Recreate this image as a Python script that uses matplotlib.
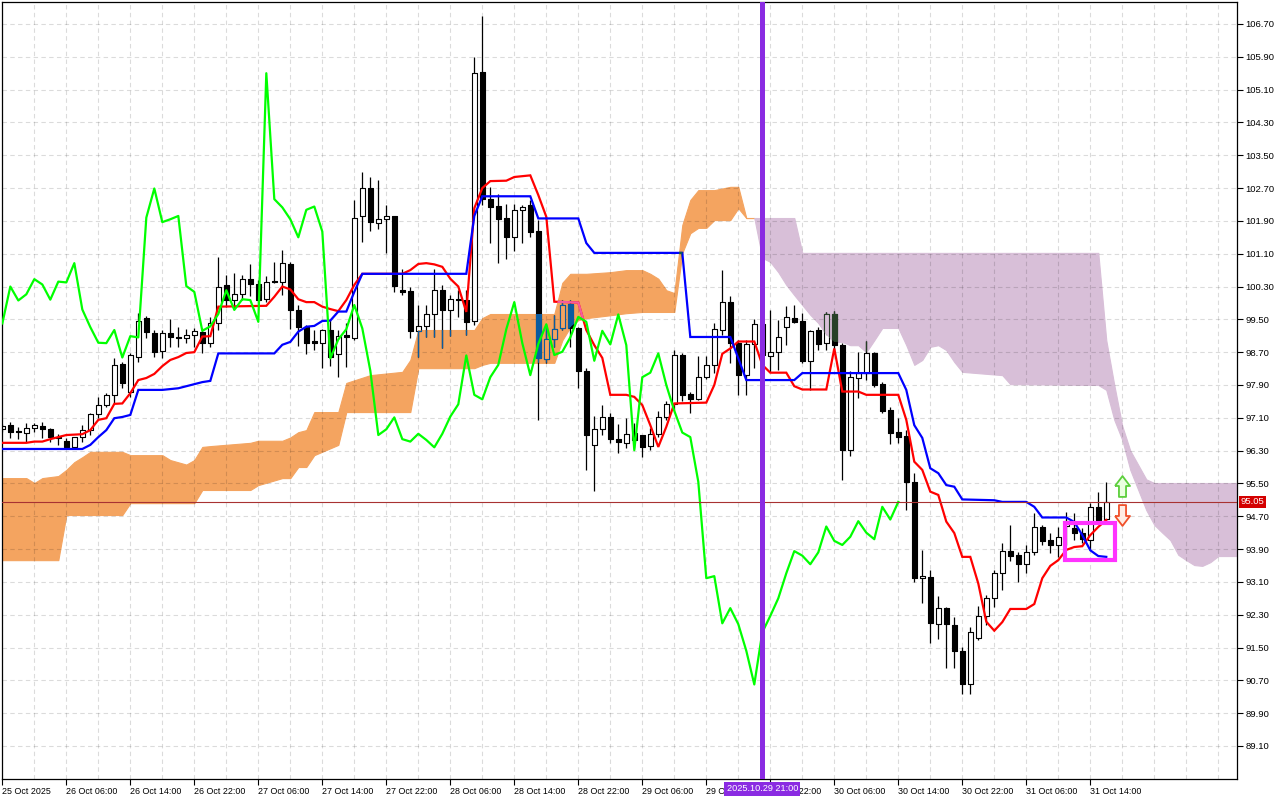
import numpy as np
import matplotlib
matplotlib.use("Agg")
import matplotlib.pyplot as plt
from matplotlib.path import Path
from matplotlib.collections import LineCollection, PolyCollection
from matplotlib.patches import Rectangle
from matplotlib.transforms import blended_transform_factory

# hourly candles, bar 0 = 25 Oct 22:00
opens = [96.83, 96.92, 96.79, 96.72, 96.84, 96.90, 96.82, 96.64, 96.54, 96.40,
         96.62, 96.80, 97.19, 97.40, 97.65, 98.40, 97.73, 98.59, 99.54, 99.17,
         98.73, 99.16, 99.06, 99.05, 99.13, 99.20, 98.92, 99.40, 100.33, 99.97,
         100.11, 100.48, 100.35, 99.99, 100.44, 100.42, 100.84, 99.74, 99.31, 98.96,
         98.93, 99.25, 98.65, 99.13, 99.05, 102.02, 102.69, 101.84, 101.94, 102.02,
         100.21, 100.19, 99.22, 99.33, 99.63, 100.21, 99.73, 99.99, 99.97, 99.47,
         105.54, 102.43, 102.26, 101.96, 101.50, 102.17, 102.29, 101.66, 98.53, 99.01,
         99.28, 99.87, 99.28, 98.25, 96.44, 96.82, 97.11, 96.58, 96.49, 96.73,
         96.68, 96.41, 96.71, 97.13, 97.44, 98.62, 97.68, 97.55, 98.09, 98.39,
         99.24, 99.92, 98.92, 98.14, 98.90, 99.38, 98.61, 98.71, 99.31, 99.53,
         99.46, 98.49, 99.24, 98.92, 99.62, 98.87, 96.31, 98.06, 98.20, 98.67,
         97.92, 97.29, 96.76, 96.66, 95.54, 93.19, 93.23, 92.07, 92.46, 92.05,
         91.42, 90.60, 91.72, 92.27, 92.70, 93.32, 93.85, 93.75, 93.53, 93.82,
         94.43, 94.12, 94.00, 94.46, 94.41, 94.30, 94.13, 94.93, 94.64]
highs = [96.95, 96.99, 96.88, 96.97, 96.98, 97.00, 96.84, 96.70, 96.60, 96.64,
         96.92, 97.21, 97.61, 97.70, 98.55, 98.47, 98.69, 99.65, 99.58, 99.24,
         99.24, 99.50, 99.32, 99.26, 99.28, 99.28, 99.56, 101.01, 100.58, 100.62,
         100.58, 100.84, 100.46, 100.56, 100.90, 101.20, 100.91, 99.85, 99.36, 99.24,
         99.26, 99.48, 99.24, 99.40, 102.41, 103.09, 102.96, 102.90, 102.29, 102.03,
         100.73, 100.30, 99.84, 99.85, 100.72, 100.34, 100.09, 100.21, 100.21, 105.89,
         106.90, 102.73, 102.55, 102.31, 102.31, 102.29, 102.41, 101.92, 99.36, 99.61,
         99.97, 99.97, 99.32, 98.31, 97.14, 97.41, 97.21, 96.95, 97.09, 96.97,
         96.68, 96.84, 97.27, 97.52, 98.75, 98.67, 97.74, 98.61, 98.61, 99.42,
         100.70, 100.07, 99.00, 99.00, 99.50, 99.45, 99.73, 99.48, 99.83, 99.85,
         99.65, 99.24, 99.32, 99.69, 99.70, 98.92, 98.25, 98.71, 98.96, 98.71,
         97.98, 97.37, 97.09, 96.80, 95.75, 93.88, 93.39, 92.76, 92.50, 92.24,
         91.52, 92.01, 92.51, 92.78, 93.39, 94.04, 94.49, 93.83, 94.00, 94.79,
         94.49, 94.28, 94.45, 94.80, 94.77, 94.41, 95.03, 95.30, 95.54]
lows = [96.75, 96.60, 96.58, 96.52, 96.75, 96.60, 96.52, 96.44, 96.36, 96.36,
        96.52, 96.68, 97.09, 97.37, 97.45, 97.82, 97.61, 98.47, 99.04, 98.57,
        98.55, 98.83, 98.83, 98.93, 98.83, 98.67, 98.82, 99.24, 99.79, 99.75,
        99.98, 100.07, 99.89, 99.92, 100.38, 100.09, 99.26, 98.84, 98.66, 98.75,
        98.31, 98.36, 98.10, 98.35, 99.00, 101.39, 101.66, 101.70, 101.12, 100.17,
        100.09, 99.04, 98.59, 99.08, 99.08, 98.81, 99.10, 99.56, 99.12, 99.36,
        102.29, 101.35, 100.88, 100.96, 101.17, 101.37, 101.50, 97.05, 98.43, 98.83,
        99.24, 98.83, 97.82, 95.83, 95.32, 96.68, 96.48, 96.25, 96.37, 96.37,
        96.15, 96.31, 96.64, 97.05, 97.29, 97.52, 97.21, 97.53, 98.04, 98.18,
        99.12, 98.43, 97.66, 97.66, 98.31, 98.50, 98.22, 98.26, 98.87, 99.40,
        98.43, 97.78, 98.75, 98.75, 98.75, 95.58, 96.17, 97.58, 98.02, 97.86,
        97.21, 96.46, 96.49, 94.85, 93.10, 92.58, 91.60, 91.70, 90.99, 90.99,
        90.36, 90.36, 91.68, 92.05, 92.50, 92.90, 93.62, 93.10, 93.32, 93.75,
        94.00, 93.80, 93.70, 94.00, 94.13, 94.04, 93.88, 94.61, 94.61]
closes = [96.90, 96.75, 96.76, 96.84, 96.92, 96.82, 96.62, 96.60, 96.40, 96.62,
          96.80, 97.19, 97.40, 97.65, 98.38, 97.96, 98.62, 99.46, 99.18, 98.71,
          99.16, 99.06, 99.05, 99.13, 99.22, 98.92, 99.40, 100.30, 99.96, 100.11,
          100.48, 100.35, 99.98, 100.42, 100.40, 100.87, 99.74, 99.31, 98.93, 98.92,
          99.24, 98.57, 99.09, 99.06, 101.98, 102.69, 101.87, 101.94, 102.02, 100.31,
          100.17, 99.22, 99.33, 99.63, 100.21, 99.73, 99.99, 99.97, 99.44, 105.50,
          102.43, 102.23, 101.94, 101.50, 102.17, 102.25, 101.64, 98.55, 99.01, 99.26,
          99.85, 99.28, 98.25, 96.68, 96.82, 97.11, 96.58, 96.52, 96.71, 96.56,
          96.38, 96.71, 97.13, 97.43, 98.62, 97.66, 97.55, 98.09, 98.39, 99.26,
          99.92, 98.92, 98.14, 98.90, 99.38, 98.63, 98.71, 99.06, 99.56, 99.44,
          98.49, 99.22, 98.89, 99.62, 98.87, 96.31, 98.09, 98.20, 98.67, 97.90,
          97.27, 96.74, 96.63, 95.54, 93.19, 93.24, 92.09, 92.46, 92.07, 91.42,
          90.60, 91.87, 92.27, 92.70, 93.31, 93.85, 93.74, 93.53, 93.82, 94.45,
          94.10, 94.00, 94.20, 94.58, 94.30, 94.14, 94.93, 94.62, 95.05]

# Ichimoku lines (bar index, price)
tenkan_bar = [0, 3, 4, 5, 6, 8, 10, 11, 12, 13, 14, 15, 16, 17, 18, 19, 20, 21, 22, 23,
              24, 25, 26, 27, 33, 34, 35, 36, 37, 38, 39, 40, 41, 42, 43, 44, 45, 50, 51, 52,
              53, 54, 55, 56, 57, 58, 59, 60, 61, 63, 64, 65, 66, 67, 68, 69, 72, 73, 74, 75,
              76, 78, 79, 80, 81, 82, 83, 84, 88, 89, 90, 91, 92, 94, 95, 96, 98, 99, 100, 103,
              104, 105, 107, 108, 112, 113, 114, 115, 116, 117, 118, 119, 120, 121, 122, 123, 124, 125, 126, 128,
              129, 130, 131, 132, 133, 134, 135, 136, 137, 138]
tenkan_val = [96.49, 96.49, 96.52, 96.52, 96.58, 96.68, 96.70, 96.80, 97.05, 97.09,
              97.44, 97.45, 97.70, 98.02, 98.07, 98.17, 98.36, 98.51, 98.58, 98.68,
              98.70, 99.08, 99.09, 99.81, 99.83, 100.05, 100.30, 100.23, 99.99, 99.92,
              99.92, 99.81, 99.75, 99.70, 99.97, 100.34, 100.61, 100.61, 100.70, 100.85,
              100.87, 100.84, 100.78, 100.49, 100.30, 99.68, 102.21, 102.70, 102.87, 102.88,
              102.97, 102.99, 103.01, 102.53, 102.00, 99.93, 99.91, 99.24, 98.87, 98.56,
              97.66, 97.66, 97.61, 97.41, 96.92, 96.39, 96.88, 97.45, 97.47, 97.90,
              98.66, 98.79, 98.96, 98.96, 98.39, 98.20, 98.20, 97.87, 97.79, 97.79,
              98.79, 97.74, 97.74, 97.66, 97.66, 97.05, 96.03, 95.83, 95.30, 95.22,
              94.57, 94.29, 93.71, 93.71, 93.06, 92.13, 91.91, 92.12, 92.44, 92.44,
              92.56, 93.19, 93.49, 93.63, 93.88, 93.95, 93.97, 94.24, 94.44, 94.61]
kijun_bar = [0, 10, 11, 12, 13, 14, 15, 16, 17, 20, 21, 22, 23, 24, 25, 26, 27, 34, 35, 36,
             37, 38, 39, 40, 41, 42, 43, 44, 45, 58, 59, 60, 66, 67, 72, 73, 74, 85, 86, 91,
             92, 93, 99, 100, 112, 113, 114, 115, 116, 117, 118, 119, 120, 124, 125, 128, 129, 130, 133, 134,
             135, 136, 137, 138]
kijun_val = [96.34, 96.34, 96.44, 96.63, 96.80, 97.09, 97.12, 97.17, 97.78, 97.78,
             97.80, 97.82, 97.87, 97.92, 97.97, 98.00, 98.67, 98.67, 98.88, 98.95,
             99.20, 99.32, 99.34, 99.46, 99.47, 99.69, 99.69, 100.17, 100.61, 100.61,
             102.02, 102.50, 102.50, 101.96, 101.96, 101.36, 101.12, 101.12, 99.07, 99.07,
             98.55, 98.02, 98.02, 98.19, 98.19, 97.78, 96.92, 96.61, 95.87, 95.75,
             95.46, 95.42, 95.11, 95.09, 95.05, 95.05, 94.93, 94.67, 94.67, 94.56,
             94.24, 93.87, 93.73, 93.71]
cloud_bar = [0, 3, 4, 5, 7, 8, 9, 10, 11, 15, 16, 20, 21, 23, 24, 25, 26, 31, 32, 35,
             36, 37, 38, 39, 42, 43, 46, 50, 51, 52, 59, 60, 61, 69, 70, 71, 72, 73, 76, 78,
             80, 81, 82, 83, 84, 85, 86, 87, 88, 89, 91, 92, 93, 94, 95, 96, 97, 98, 99, 100,
             101, 102, 103, 104, 105, 106, 107, 108, 109, 110, 112, 113, 114, 115, 116, 117, 118, 119, 120, 125,
             126, 137, 138, 139, 140, 141, 142, 143, 144, 145, 146, 147, 148, 149, 150, 151, 152, 155]
span_a = [95.63, 95.63, 95.51, 95.63, 95.68, 95.83, 96.02, 96.14, 96.27, 96.27,
          96.19, 96.19, 96.07, 95.96, 96.07, 96.39, 96.41, 96.49, 96.54, 96.54,
          96.62, 96.75, 96.80, 97.24, 97.24, 97.95, 98.14, 98.22, 98.51, 99.24,
          99.24, 99.53, 99.63, 99.63, 100.39, 100.61, 100.61, 100.61, 100.65, 100.70,
          100.70, 100.61, 100.49, 100.21, 100.14, 101.80, 102.41, 102.65, 102.65, 102.65,
          102.73, 102.73, 101.97, 101.97, 101.00, 100.90, 100.65, 100.34, 100.09, 99.85,
          99.61, 99.41, 99.12, 98.95, 98.95, 98.87, 98.87, 98.70, 98.99, 99.29,
          99.29, 98.87, 98.39, 98.51, 98.83, 98.87, 98.75, 98.46, 98.22, 98.14,
          97.92, 97.90, 97.78, 97.05, 96.56, 95.83, 95.34, 94.85, 94.49, 94.30,
          94.12, 93.76, 93.63, 93.51, 93.49, 93.58, 93.73, 93.73]
span_b = [93.63, 93.63, 93.63, 93.63, 93.63, 94.73, 94.73, 94.73, 94.73, 94.73,
          95.02, 95.02, 95.02, 95.02, 95.02, 95.34, 95.34, 95.34, 95.46, 95.63,
          95.63, 95.90, 95.90, 96.19, 96.44, 97.24, 97.24, 97.24, 97.24, 98.31,
          98.31, 98.39, 98.44, 98.44, 98.99, 99.31, 99.48, 99.53, 99.60, 99.65,
          99.68, 99.68, 99.68, 99.68, 99.68, 101.12, 101.60, 101.73, 101.73, 101.92,
          101.92, 102.21, 101.97, 101.97, 101.97, 101.97, 101.97, 101.97, 101.97, 101.12,
          101.12, 101.12, 101.12, 101.12, 101.12, 101.12, 101.12, 101.12, 101.12, 101.12,
          101.12, 101.12, 101.12, 101.12, 101.12, 101.12, 101.12, 101.12, 101.12, 101.12,
          101.12, 101.12, 98.99, 97.90, 96.90, 96.30, 95.95, 95.60, 95.51, 95.51,
          95.51, 95.51, 95.51, 95.51, 95.51, 95.51, 95.51, 95.51]

tick_bars = list(range(0, 137, 8))
tick_labels = ['25 Oct 2025', '26 Oct 06:00', '26 Oct 14:00', '26 Oct 22:00',
               '27 Oct 06:00', '27 Oct 14:00', '27 Oct 22:00', '28 Oct 06:00',
               '28 Oct 14:00', '28 Oct 22:00', '29 Oct 06:00', '29 Oct 14:00',
               '29 Oct 22:00', '30 Oct 06:00', '30 Oct 14:00', '30 Oct 22:00',
               '31 Oct 06:00', '31 Oct 14:00']
marker_bar = 95
marker_label = '2025.10.29 21:00'
last_price = 95.05
signal_bar = 140
signal_up = 95.44
signal_down = 94.73
box_bars = (132.8, 139.1)
box_prices = (93.63, 94.54)

plt.rcParams['font.family'] = ['Liberation Sans', 'DejaVu Sans']

ORANGE = (244, 164, 96)
THISTLE = (216, 191, 216)


def rgb(c):
    return tuple(v / 255 for v in c)


def xor_color(color, cloud):
    # MT5 paints the cloud in XOR mode: white -> cloud colour
    t = [int(round(v * 255)) for v in matplotlib.colors.to_rgb(color)]
    return rgb([a ^ (255 - b) for a, b in zip(t, cloud)])


fig = plt.figure(figsize=(12.8, 8), dpi=100)
ax = fig.add_axes([2 / 1280, 21 / 800, 1235 / 1280, 777 / 800])

n = len(opens)
xs = np.arange(n)
o, h, l, c = (np.array(v) for v in (opens, highs, lows, closes))
up = c >= o

cb = np.array(cloud_bar, float)
sa = np.array(span_a)
sb = np.array(span_b)
fill_up = ax.fill_between(cb, sa, sb, where=sa >= sb, interpolate=True,
                          facecolor=rgb(ORANGE), edgecolor=rgb(ORANGE), lw=0.8, zorder=1)
fill_dn = ax.fill_between(cb, sa, sb, where=sa < sb, interpolate=True,
                          facecolor=rgb(THISTLE), edgecolor=rgb(THISTLE), lw=0.8, zorder=1)
clouds = []
for coll, col in ((fill_up, ORANGE), (fill_dn, THISTLE)):
    paths = coll.get_paths()
    if paths:
        clouds.append((Path.make_compound_path(*paths), col))

half = 0.28
wick_segs = [[(i, lo), (i, hi)] for i, lo, hi in zip(xs, l, h)]
body_verts = [[(i - half, min(a, b)), (i - half, max(a, b)),
               (i + half, max(a, b)), (i + half, min(a, b))]
              for i, a, b in zip(xs, o, c)]


def draw_candles(ink, bull_face, z, clip=None):
    wc = LineCollection(wick_segs, colors=[ink], linewidths=0.9, zorder=z)
    faces = [bull_face if u else ink for u in up]
    bc = PolyCollection(body_verts, facecolors=faces, edgecolors=[ink],
                        linewidths=0.8, zorder=z + 0.1)
    for art in (wc, bc):
        if clip is not None:
            art.set_clip_path(clip, ax.transData)
        ax.add_collection(art)


draw_candles('black', 'white', 2)
for path, col in clouds:
    draw_candles(xor_color('black', col), rgb(col), 2.3, clip=path)

for bars, vals, col in ((tenkan_bar, tenkan_val, '#ff0000'),
                        (kijun_bar, kijun_val, '#0000ff')):
    ax.plot(bars, vals, color=col, lw=1.6, zorder=3, solid_joinstyle='miter')
    for path, ccol in clouds:
        ln, = ax.plot(bars, vals, color=xor_color(col, ccol), lw=1.6, zorder=3.2)
        ln.set_clip_path(path, ax.transData)

# chikou span: close shifted 26 bars back
ax.plot(xs[26:] - 26, c[26:], color='#00ff00', lw=1.6, zorder=4)

ax.axhline(last_price, color='#a83232', lw=0.8, zorder=4.5)
ax.axvline(marker_bar, color='#8a2be2', lw=3.6, zorder=5)

ax.add_patch(Rectangle((box_bars[0], box_prices[0]), box_bars[1] - box_bars[0],
                       box_prices[1] - box_prices[0], fill=False,
                       edgecolor='#ff33ff', lw=3, zorder=6))

# hollow signal arrows
up_arrow = Path([(-0.72, 0.05), (0, 1), (0.72, 0.05), (0.34, 0.05), (0.34, -1),
                 (-0.34, -1), (-0.34, 0.05), (-0.72, 0.05)])
dn_arrow = Path([(x, -y) for x, y in up_arrow.vertices])
ax.plot([signal_bar], [signal_up], marker=up_arrow, markersize=15, mfc='#eaffe0',
        mec='#5ccf3c', mew=1.3, ls='none', zorder=6)
ax.plot([signal_bar], [signal_down], marker=dn_arrow, markersize=15, mfc='#ffece4',
        mec='#f0502a', mew=1.3, ls='none', zorder=6)

ax.set_xlim(-0.04, 154.34)
ax.set_ylim(88.295, 107.236)

ax.set_xticks(tick_bars)
ax.set_xticklabels(tick_labels, ha='left')
ax.set_xticks(np.arange(0, 156, 4), minor=True)
ax.set_yticks(np.round(np.arange(89.10, 106.71, 0.8), 2))
ax.yaxis.set_major_formatter(matplotlib.ticker.FormatStrFormatter('%.2f'))
ax.yaxis.tick_right()
ax.tick_params(axis='x', which='major', length=4, width=0.8, pad=1.5, labelsize=6.4)
ax.tick_params(axis='x', which='minor', length=0)
ax.tick_params(axis='y', length=4, width=0.8, pad=2, labelsize=6.8)

ax.set_axisbelow('line')
grid_kw = dict(color='black', alpha=0.14, lw=0.8, linestyle=(0, (4, 3)))
ax.grid(True, axis='x', which='both', **grid_kw)
ax.grid(True, axis='y', which='major', **grid_kw)
for sp in ax.spines.values():
    sp.set_linewidth(0.9)

ax.text(1.003, last_price, f'{last_price:.2f}', color='white', fontsize=6.8,
        ha='left', va='center', transform=blended_transform_factory(ax.transAxes, ax.transData),
        bbox=dict(boxstyle='square,pad=0.2', fc='#d40000', ec='none'), clip_on=False, zorder=10)
ax.text(marker_bar, -0.0125, marker_label, color='white', fontsize=6.6,
        ha='center', va='center', transform=blended_transform_factory(ax.transData, ax.transAxes),
        bbox=dict(boxstyle='square,pad=0.25', fc='#8a2be2', ec='none'), clip_on=False, zorder=10)

fig.savefig('out.png', dpi=100)
